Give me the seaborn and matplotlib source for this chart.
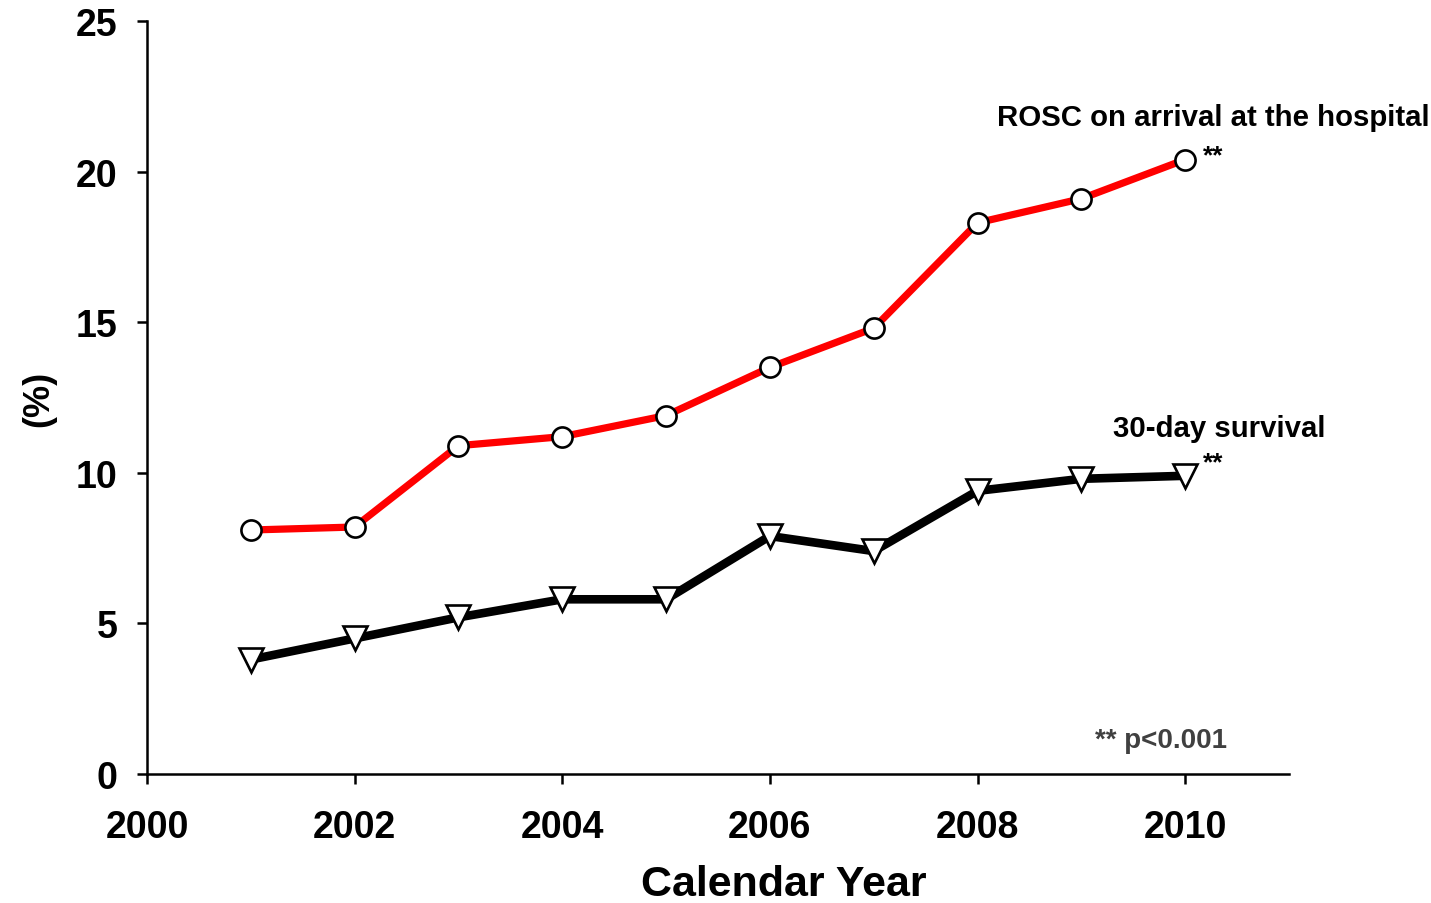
import numpy as np
import pandas as pd
import matplotlib
matplotlib.use('Agg')
import matplotlib.pyplot as plt
import seaborn as sns

# data
years = [2001, 2002, 2003, 2004, 2005, 2006, 2007, 2008, 2009, 2010]
rosc = [8.1, 8.2, 10.9, 11.2, 11.9, 13.5, 14.8, 18.3, 19.1, 20.4]
survival = [3.8, 4.5, 5.2, 5.8, 5.8, 7.9, 7.4, 9.4, 9.8, 9.9]
x_ticks = [2000, 2002, 2004, 2006, 2008, 2010]
y_ticks = [0, 5, 10, 15, 20, 25]

sns.set_style('ticks')
plt.rcParams['font.family'] = ['Liberation Sans', 'DejaVu Sans']
plt.rcParams['font.weight'] = 'bold'
plt.rcParams['text.color'] = 'black'
plt.rcParams['axes.labelcolor'] = 'black'
plt.rcParams['xtick.color'] = 'black'
plt.rcParams['ytick.color'] = 'black'

df = pd.DataFrame({'year': years, 'rosc': rosc, 'survival': survival})

fig = plt.figure(figsize=(14.31, 9.04), dpi=100)
ax = fig.add_axes([0.1027, 0.1427, 0.7981, 0.8330])

sns.lineplot(data=df, x='year', y='rosc', ax=ax, color='#ff0000', lw=5.2,
             marker='o', markersize=14.5, markerfacecolor='white',
             markeredgecolor='black', markeredgewidth=1.9, zorder=3)
sns.lineplot(data=df, x='year', y='survival', ax=ax, color='black', lw=6.2,
             marker='v', markersize=17, markerfacecolor='white',
             markeredgecolor='black', markeredgewidth=1.9, zorder=3)

ax.set_xlim(2000, 2011.0)
ax.set_ylim(0, 25)
ax.set_xticks(x_ticks)
ax.set_yticks(y_ticks)
ax.tick_params(labelsize=27, width=1.8, length=7, direction='out')
ax.tick_params(axis='x', pad=18)
ax.tick_params(axis='y', pad=14)
for lab in ax.get_xticklabels() + ax.get_yticklabels():
    lab.set_fontweight('bold')
sns.despine(ax=ax)
for s in ['left', 'bottom']:
    ax.spines[s].set_linewidth(1.8)
    ax.spines[s].set_color('black')

ax.set_xlabel('Calendar Year', fontsize=31, fontweight='bold')
ax.xaxis.set_label_coords(0.558, -0.119)
ax.set_ylabel('(%)', fontsize=26, fontweight='bold', labelpad=14)

ax.text(2008.19, 21.8, 'ROSC on arrival at the hospital', fontsize=21.2,
        fontweight='bold', va='center', ha='left')
ax.text(2010.17, 20.55, '**', fontsize=19, fontweight='bold', va='center')
ax.text(2009.30, 11.5, '30-day survival', fontsize=21.2,
        fontweight='bold', va='center', ha='left')
ax.text(2010.17, 10.36, '**', fontsize=19, fontweight='bold', va='center')
ax.text(2010.40, 1.13, '** p<0.001', fontsize=20, fontweight='bold',
        color='#404040', va='center', ha='right')

fig.savefig('out.png', dpi=100)
